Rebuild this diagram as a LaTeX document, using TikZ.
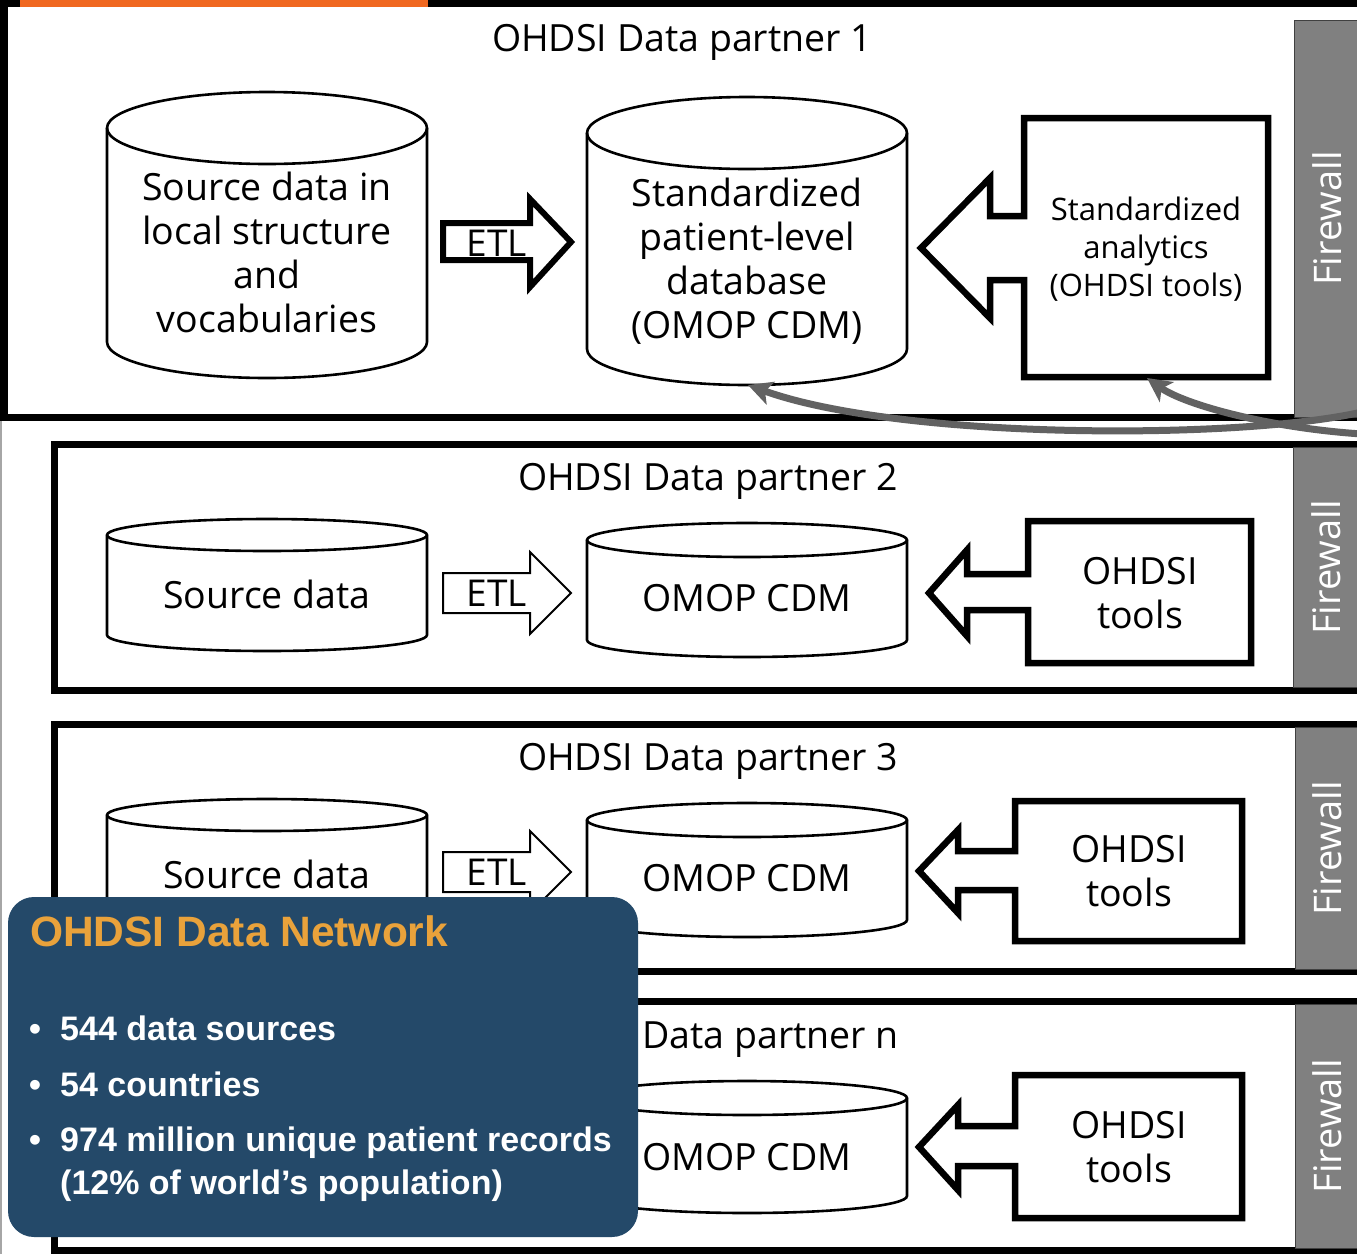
\documentclass[tikz,border=0pt]{standalone}
\usepackage{fontspec}
\setmainfont{Open Sans}
\newfontfamily\netfont{Liberation Sans}
\usetikzlibrary{arrows.meta}
\definecolor{netblue}{RGB}{36,73,105}
\definecolor{netorange}{RGB}{233,162,59}
\definecolor{fwgray}{RGB}{128,128,128}
\definecolor{curvegray}{RGB}{98,98,98}
\definecolor{barorange}{RGB}{240,104,32}
% #1 name, #2 cx, #3 top, #4 bottom, #5 rx, #6 ry, #7 text y, #8 text
\newcommand{\dbcyl}[8]{%
  \draw[cylline,fill=white] ({#2-#5},{#3+#6}) -- ({#2-#5},{#4-#6})
    arc[start angle=180,end angle=360,x radius=#5pt,y radius=#6pt]
    -- ({#2+#5},{#3+#6})
    arc[start angle=0,end angle=180,x radius=#5pt,y radius=#6pt] -- cycle;
  \draw[cylline] ({#2-#5},{#3+#6}) arc[start angle=180,end angle=360,x radius=#5pt,y radius=#6pt];
  \node[dbtext] (#1) at (#2,#7) {#8};
}
\begin{document}
\begin{tikzpicture}[x=1pt,y=-1pt,
  panel/.style={draw=black,line width=7pt},
  cylline/.style={draw=black,line width=2.6pt},
  dbtext/.style={align=center,inner sep=0pt,font=\fontsize{37.5}{44}\selectfont},
  titletext/.style={anchor=base,inner sep=0pt,font=\fontsize{37.5}{44}\selectfont},
  etlthick/.style={draw=black,fill=white,line width=6pt,line join=miter},
  etlthin/.style={draw=black,fill=white,line width=2pt,line join=miter},
  etltext/.style={inner sep=0pt,font=\fontsize{37}{44}\selectfont},
  toolline/.style={draw=black,fill=white,line width=6.5pt,line join=miter},
  tooltext/.style={align=center,inner sep=0pt,font=\fontsize{37.5}{44}\selectfont},
  fwbox/.style={fill=fwgray,draw=black!75,line width=1pt,rotate=90,text=white,
     inner sep=0pt,font=\fontsize{38}{40}\selectfont},
  netarrow/.style={draw=curvegray,line width=7pt,
     -{Stealth[length=24pt,width=24pt,inset=6pt]}},
  netbox/.style={fill=netblue,rounded corners=26pt,minimum width=630pt,minimum height=340pt,inner sep=0pt},
  nettitle/.style={anchor=base west,inner sep=0pt,text=netorange,font=\netfont\bfseries\fontsize{42.5}{48}\selectfont},
  netitem/.style={anchor=base west,inner sep=0pt,text=white,font=\netfont\bfseries\fontsize{34}{43}\selectfont},
  netbullet/.style={anchor=base,inner sep=0pt,text=white,font=\netfont\bfseries\fontsize{34}{43}\selectfont}
]
\useasboundingbox (0,0) rectangle (1357,1254);
\clip (0,0) rectangle (1357,1254);
\fill[white] (0,0) rectangle (1357,1254);

% ---------- panel frames ----------
\draw[panel] (4,3) rectangle (1390,417);
\draw[black!35,line width=2pt] (1,421) -- (1,1254);
\draw[panel] (54,444) rectangle (1390,690);
\draw[panel] (54,724) rectangle (1390,971);
\draw[panel] (54,1001) rectangle (1390,1250);
\fill[barorange] (20,0) rectangle (428,7);

% ---------- titles ----------
\node[titletext] (t1) at (682,51) {OHDSI Data partner 1};
\node[titletext] (t2) at (708,490) {OHDSI Data partner 2};
\node[titletext] (t3) at (708,770) {OHDSI Data partner 3};
\node[titletext] (tn) at (708,1048) {OHDSI Data partner n};

% ---------- partner 1 ----------
\dbcyl{src1}{267}{92}{378}{160}{36}{252}{Source data in\\local structure\\and\\vocabularies}
\dbcyl{cdm1}{747}{97}{385}{160}{36}{261.5}{Standardized\\patient-level\\database\\(OMOP CDM)}
\draw[etlthick] (443,223) -- (530,223) -- (530,199) -- (571,242) -- (530,287) -- (530,260) -- (443,260) -- cycle;
\node[etltext] (etl1) at (497,243) {ETL};
\draw[toolline] (1024,118) -- (1268,118) -- (1268,377) -- (1024,377) -- (1024,280) -- (990,280)
  -- (990,318) -- (921,248) -- (990,178) -- (990,216) -- (1024,216) -- cycle;
\node[tooltext,font=\fontsize{31}{38}\selectfont] (tools1) at (1146,249.5) {Standardized\\analytics\\(OHDSI tools)};

% ---------- partner 2 ----------
\dbcyl{src2}{267}{519}{651}{160}{16}{594}{Source data}
\dbcyl{cdm2}{747}{523}{657}{160}{17}{598}{OMOP CDM}
\draw[etlthin] (443,573) -- (530,573) -- (530,552) -- (571,593) -- (530,634) -- (530,613) -- (443,613) -- cycle;
\node[etltext] (etl2) at (497,593) {ETL};
\draw[toolline] (1028,521) -- (1251,521) -- (1251,663) -- (1028,663) -- (1028,610) -- (967,610)
  -- (967,636) -- (929,593) -- (967,550) -- (967,574) -- (1028,574) -- cycle;
\node[tooltext] (tools2) at (1140,593) {OHDSI\\tools};

% ---------- partner 3 ----------
\dbcyl{src3}{267}{799}{931}{160}{16}{874}{Source data}
\dbcyl{cdm3}{747}{803}{937}{160}{17}{878}{OMOP CDM}
\draw[etlthin] (443,852) -- (530,852) -- (530,831) -- (571,872) -- (530,913) -- (530,892) -- (443,892) -- cycle;
\node[etltext] (etl3) at (497,872) {ETL};
\draw[toolline] (1015,801) -- (1242,801) -- (1242,941) -- (1015,941) -- (1015,890) -- (958,890)
  -- (958,913) -- (919,871) -- (958,830) -- (958,851) -- (1015,851) -- cycle;
\node[tooltext] (tools3) at (1129,871) {OHDSI\\tools};

% ---------- partner n ----------
\dbcyl{cdmn}{747}{1081}{1213}{160}{17}{1157}{OMOP CDM}
\draw[toolline] (1015,1075) -- (1242,1075) -- (1242,1218) -- (1015,1218) -- (1015,1166) -- (958,1166)
  -- (958,1190) -- (919,1147) -- (958,1105) -- (958,1126) -- (1015,1126) -- cycle;
\node[tooltext] (toolsn) at (1129,1147) {OHDSI\\tools};

% ---------- firewalls ----------
\node[fwbox,minimum width=397pt,minimum height=66pt] (fw1) at (1327,218.5) {Firewall};
\node[fwbox,minimum width=240pt,minimum height=66pt] (fw2) at (1326,567.5) {Firewall};
\node[fwbox,minimum width=242pt,minimum height=64pt] (fw3) at (1327,848.5) {Firewall};
\node[fwbox,minimum width=244pt,minimum height=64pt] (fwn) at (1327,1126) {Firewall};

% ---------- network arrows ----------
\coordinate (inA) at (1362,412);
\coordinate (inB) at (1362,434);
\coordinate (cdm1b) at (748,385);
\coordinate (tools1b) at (1147,378);
\draw[netarrow] (inA) .. controls (1240,440) and (900,440) .. (cdm1b);
\draw[netarrow] (inB) .. controls (1270,428) and (1185,405) .. (tools1b);

% ---------- network box ----------
\node[netbox] (net) at (323,1067) {};
\node[nettitle] (nett) at (30,946) {OHDSI Data Network};
\node[netbullet] (b1) at (35,1040) {•};
\node[netitem] (i1) at (60,1040) {544 data sources};
\node[netbullet] (b2) at (35,1096) {•};
\node[netitem] (i2) at (60,1096) {54 countries};
\node[netbullet] (b3) at (35,1151) {•};
\node[netitem] (i3) at (60,1151) {974 million unique patient records};
\node[netitem] (i3b) at (60,1194) {(12\% of world’s population)};
\end{tikzpicture}
\end{document}
